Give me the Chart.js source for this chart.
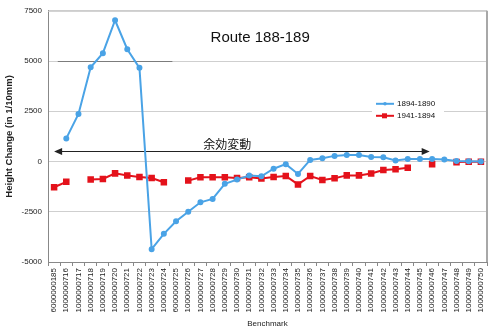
<!DOCTYPE html>
<html>
<head>
<meta charset="utf-8">
<script src="https://cdn.jsdelivr.net/npm/chart.js@4.4.0/dist/chart.umd.min.js"></script>
<style>
  html, body { margin: 0; padding: 0; background: #fff; }
  #wrap { width: 493px; height: 331px; }
</style>
</head>
<body>
<div id="wrap"><canvas id="chartCanvas"></canvas></div>
<script>
const benchmarks = [
  "6000000185", "1000000716", "1000000717", "1000000718", "1000000719",
  "1000000720", "1000000721", "1000000722", "1000000723", "1000000724",
  "6000000725", "1000000726", "1000000727", "1000000728", "1000000729",
  "1000000730", "1000000731", "1000000732", "1000000733", "1000000734",
  "1000000735", "1000000736", "1000000737", "1000000738", "1000000739",
  "1000000740", "1000000741", "1000000742", "1000000743", "1000000744",
  "1000000745", "1000000746", "1000000747", "1000000748", "1000000749",
  "1000000750"
];

// 1894-1890 survey difference
const change1894 = [
  null, 1150, 2370, 4690, 5390, 7030, 5590, 4660, -4360, -3600,
  -2970, -2500, -2030, -1860, -1110, -900, -700, -735, -360, -130,
  -620, 80, 160, 280, 330, 330, 230, 210, 50, 130,
  130, 130, 100, 30, 15, 0
];

// 1941-1894 survey difference
const change1941 = [
  -1280, -1010, null, -900, -870, -590, -700, -770, -820, -1030,
  null, -950, -780, -780, -780, -820, -780, -850, -770, -720,
  -1140, -720, -920, -830, -690, -690, -600, -420, -390, -310,
  null, -130, null, -30, -15, -15
];

const yTicks = [-5000, -2500, 0, 2500, 5000, 7500];

const BLUE = "#4aa3e6";
const RED = "#e4121b";
const FONT = "'Liberation Sans', Arial, sans-serif";

// extra drawing: frame, 5000 marker segment, arrow, title, legend
const extras = {
  id: "extras",
  beforeDatasetsDraw(chart) {
    const { ctx, chartArea: a, scales: { x, y } } = chart;
    ctx.save();

    // top and right frame
    ctx.strokeStyle = "#c8c8c8";
    ctx.lineWidth = 1;
    ctx.beginPath();
    ctx.moveTo(a.left, a.top + 0.5);
    ctx.lineTo(a.right, a.top + 0.5);
    ctx.stroke();
    ctx.strokeStyle = "#a8a8a8";
    ctx.lineWidth = 2;
    ctx.beginPath();
    ctx.moveTo(a.right, a.top);
    ctx.lineTo(a.right, a.bottom);
    ctx.stroke();

    // darker segment on the 5000 line
    const y5 = Math.round(y.getPixelForValue(5000)) + 0.5;
    ctx.strokeStyle = "#7c7c7c";
    ctx.lineWidth = 1;
    ctx.beginPath();
    ctx.moveTo(x.getPixelForValue(0.3), y5);
    ctx.lineTo(x.getPixelForValue(9.7), y5);
    ctx.stroke();

    // double arrow with label
    const ya = Math.round(y.getPixelForValue(500)) + 0.5;
    const x0 = x.getPixelForValue(0);
    const x1 = x.getPixelForValue(30.8);
    ctx.strokeStyle = "#222";
    ctx.fillStyle = "#222";
    ctx.lineWidth = 1;
    ctx.beginPath();
    ctx.moveTo(x0 + 4, ya);
    ctx.lineTo(x1 - 4, ya);
    ctx.stroke();
    ctx.beginPath();
    ctx.moveTo(x0, ya);
    ctx.lineTo(x0 + 8, ya - 3.5);
    ctx.lineTo(x0 + 8, ya + 3.5);
    ctx.closePath();
    ctx.fill();
    ctx.beginPath();
    ctx.moveTo(x1, ya);
    ctx.lineTo(x1 - 8, ya - 3.5);
    ctx.lineTo(x1 - 8, ya + 3.5);
    ctx.closePath();
    ctx.fill();

    ctx.fillStyle = "#111";
    ctx.font = "12px 'Noto Sans CJK JP', sans-serif";
    ctx.textAlign = "center";
    ctx.textBaseline = "middle";
    ctx.fillText("余効変動", x.getPixelForValue(14.2), ya - 7);

    // chart title inside the plot
    ctx.font = "15px " + FONT;
    ctx.fillStyle = "#111";
    ctx.fillText("Route 188-189", x.getPixelForValue(16.9), y.getPixelForValue(6130));
    ctx.restore();
  },
  afterDatasetsDraw(chart) {
    const { ctx, chartArea: a } = chart;
    const lx = a.left + 328;
    const ly = a.top + 93;
    ctx.save();
    ctx.fillStyle = "#fff";
    ctx.fillRect(lx - 4, ly - 7, 72, 25);

    const items = [
      { label: "1894-1890", color: BLUE, square: false },
      { label: "1941-1894", color: RED, square: true }
    ];
    items.forEach((it, i) => {
      const yy = ly + i * 12;
      ctx.strokeStyle = it.color;
      ctx.fillStyle = it.color;
      ctx.lineWidth = 2;
      ctx.beginPath();
      ctx.moveTo(lx, yy);
      ctx.lineTo(lx + 18, yy);
      ctx.stroke();
      if (it.square) {
        ctx.fillRect(lx + 6, yy - 2.5, 5, 5);
      } else {
        ctx.beginPath();
        ctx.arc(lx + 9, yy, 1.8, 0, Math.PI * 2);
        ctx.fill();
      }
      ctx.fillStyle = "#111";
      ctx.font = "8px " + FONT;
      ctx.textAlign = "left";
      ctx.textBaseline = "middle";
      ctx.fillText(it.label, lx + 21, yy);
    });
    ctx.restore();
  }
};

const ctx = document.getElementById("chartCanvas").getContext("2d");

new Chart(ctx, {
  type: "line",
  data: {
    labels: benchmarks,
    datasets: [
      {
        label: "1894-1890",
        data: change1894,
        borderColor: BLUE,
        backgroundColor: BLUE,
        borderWidth: 2,
        pointRadius: 2,
        pointStyle: "circle",
        tension: 0,
        spanGaps: false
      },
      {
        label: "1941-1894",
        data: change1941,
        borderColor: RED,
        backgroundColor: RED,
        borderWidth: 2,
        pointRadius: 3.2,
        pointStyle: "rect",
        tension: 0,
        spanGaps: false
      }
    ]
  },
  options: {
    responsive: true,
    maintainAspectRatio: false,
    animation: false,
    layout: { padding: { left: 0, right: 5, top: 7, bottom: 0 } },
    plugins: {
      legend: { display: false },
      tooltip: { enabled: false }
    },
    scales: {
      x: {
        offset: true,
        grid: {
          offset: true,
          drawOnChartArea: false,
          drawTicks: true,
          tickLength: 4,
          color: "#888"
        },
        border: { color: "#888" },
        ticks: {
          autoSkip: false,
          maxRotation: 90,
          minRotation: 90,
          padding: 2,
          color: "#222",
          font: { family: FONT, size: 8 }
        },
        title: {
          display: true,
          text: "Benchmark",
          color: "#222",
          font: { family: FONT, size: 8 },
          padding: { top: 0, bottom: 2 }
        },
        afterFit(scale) { scale.height = 69; }
      },
      y: {
        min: -5000,
        max: 7500,
        afterBuildTicks(scale) {
          scale.ticks = yTicks.map(v => ({ value: v }));
        },
        grid: {
          color: "#cfcfcf",
          drawTicks: false
        },
        border: { color: "#888" },
        ticks: {
          padding: 6,
          color: "#222",
          font: { family: FONT, size: 8 },
          callback: v => String(v)
        },
        title: {
          display: true,
          text: "Height Change (in 1/10mm)",
          color: "#222",
          font: { family: FONT, size: 9.5, weight: "bold" },
          padding: { top: 4, bottom: 0 }
        },
        afterFit(scale) { scale.width = 48; }
      }
    }
  },
  plugins: [extras]
});
</script>
</body>
</html>
